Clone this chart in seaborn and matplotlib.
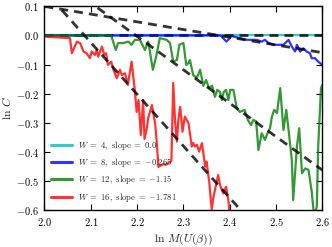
import matplotlib
matplotlib.use('Agg')
import matplotlib.pyplot as plt
import seaborn as sns
from matplotlib.ticker import FuncFormatter, MultipleLocator

# series: W values, fitted slopes / intercepts
widths = [4, 8, 12, 16]
slopes = [0.0, -0.265, -1.15, -1.781]
intercepts = [0.0, 0.63, 2.527, 3.716]
colors = ['c', 'b', 'g', 'r']
fit_x = [2.0, 2.6]

x_w4 = [2.0, 2.1, 2.2, 2.3, 2.4, 2.5, 2.6]
y_w4 = [0.0, 0.0, 0.0, 0.0, 0.0, 0.0, 0.0]

x_w8 = [2.0, 2.38, 2.393, 2.404, 2.422, 2.437, 2.458, 2.469, 2.476, 2.483, 2.494,
        2.516, 2.527, 2.534, 2.541, 2.545, 2.552, 2.559, 2.566, 2.573, 2.577,
        2.584, 2.591, 2.6]
y_w8 = [0.0, 0.0, -0.021, -0.002, -0.009, -0.015, -0.015, -0.021, -0.015, -0.025,
        -0.032, -0.032, -0.015, -0.038, -0.055, -0.032, -0.055, -0.044, -0.055,
        -0.061, -0.078, -0.078, -0.09, -0.101]

x_w12 = [2.0, 2.144, 2.154, 2.159, 2.170, 2.181, 2.188, 2.195, 2.206, 2.217, 2.224,
         2.234, 2.241, 2.249, 2.264, 2.271, 2.278, 2.286, 2.291, 2.300, 2.306,
         2.311, 2.314, 2.321, 2.329, 2.336, 2.343, 2.349, 2.355, 2.362, 2.368,
         2.373, 2.379, 2.383, 2.387, 2.392, 2.397, 2.401, 2.408, 2.415, 2.422,
         2.432, 2.439, 2.446, 2.451, 2.457, 2.462, 2.469, 2.476, 2.483, 2.487,
         2.491, 2.496, 2.502, 2.509, 2.516, 2.522, 2.527, 2.534, 2.537, 2.545,
         2.550, 2.556, 2.563, 2.570, 2.577, 2.582, 2.588, 2.591, 2.597, 2.600]
y_w12 = [0.0, 0.0, -0.050, -0.026, -0.026, -0.021, -0.032, -0.015, -0.015, -0.050,
         -0.021, -0.118, -0.073, -0.009, -0.015, -0.026, -0.090, -0.084, -0.032,
         -0.026, -0.101, -0.095, -0.084, -0.136, -0.146, -0.118, -0.173, -0.153,
         -0.180, -0.173, -0.211, -0.187, -0.194, -0.222, -0.194, -0.187, -0.222,
         -0.187, -0.187, -0.249, -0.263, -0.256, -0.290, -0.308, -0.290, -0.296,
         -0.394, -0.336, -0.359, -0.331, -0.319, -0.279, -0.256, -0.267, -0.181,
         -0.325, -0.256, -0.325, -0.428, -0.566, -0.382, -0.319, -0.474, -0.457,
         -0.462, -0.537, -0.620, -0.589, -0.382, -0.181, -0.170]

x_w16 = [2.0, 2.055, 2.059, 2.070, 2.077, 2.084, 2.091, 2.098, 2.102, 2.109, 2.113,
         2.116, 2.124, 2.129, 2.133, 2.137, 2.144, 2.149, 2.156, 2.163, 2.167,
         2.174, 2.180, 2.188, 2.195, 2.199, 2.203, 2.208, 2.213, 2.216, 2.221,
         2.224, 2.232, 2.239, 2.242, 2.246, 2.257, 2.262, 2.274, 2.278, 2.282,
         2.286, 2.289, 2.293, 2.298, 2.303, 2.311, 2.314, 2.318, 2.321, 2.325,
         2.329, 2.334, 2.340, 2.347, 2.350, 2.356, 2.361, 2.365, 2.375, 2.379,
         2.386, 2.392, 2.397, 2.400]
y_w16 = [-0.004, -0.009, -0.061, -0.021, -0.026, -0.055, -0.061, -0.078, -0.055,
         -0.067, -0.050, -0.073, -0.038, -0.067, -0.061, -0.101, -0.090, -0.118,
         -0.147, -0.118, -0.136, -0.130, -0.170, -0.090, -0.187, -0.263, -0.222,
         -0.342, -0.222, -0.356, -0.318, -0.283, -0.239, -0.304, -0.359, -0.452,
         -0.442, -0.445, -0.431, -0.163, -0.297, -0.365, -0.290, -0.245, -0.331,
         -0.279, -0.302, -0.336, -0.382, -0.370, -0.382, -0.376, -0.399, -0.370,
         -0.451, -0.434, -0.508, -0.598, -0.554, -0.480, -0.514, -0.543, -0.520,
         -0.566, -0.617]

xs = [x_w4, x_w8, x_w12, x_w16]
ys = [y_w4, y_w8, y_w12, y_w16]

sns.set_style('ticks')
plt.rcParams['font.family'] = 'serif'
plt.rcParams['font.serif'] = ['cmr10', 'DejaVu Serif']
plt.rcParams['mathtext.fontset'] = 'cm'
plt.rcParams['axes.unicode_minus'] = False

fig, ax = plt.subplots(figsize=(3.32, 2.47), dpi=100)
fig.subplots_adjust(left=0.134, right=0.971, bottom=0.150, top=0.974)

for w, s, b, c, x, y in zip(widths, slopes, intercepts, colors, xs, ys):
    s_txt = str(s).replace('-', '{-}')
    sns.lineplot(x=x, y=y, ax=ax, color=c, alpha=0.8, lw=1.6,
                 label=rf'$W\;=\;{w},\ \mathrm{{slope}}\;=\;{s_txt}$')
    ax.plot(fit_x, [b + s * v for v in fit_x], color='k', alpha=0.8, lw=2.0,
            linestyle=(0, (3.2, 2.2)))

ax.set_xlim(2.0, 2.6)
ax.set_ylim(-0.6, 0.1)
ax.xaxis.set_major_locator(MultipleLocator(0.1))
ax.yaxis.set_major_locator(MultipleLocator(0.1))
fmt = FuncFormatter(lambda v, p: rf'${v:.1f}$' if abs(v) > 1e-9 else r'$0.0$')
ax.xaxis.set_major_formatter(fmt)
ax.yaxis.set_major_formatter(fmt)
ax.tick_params(direction='in', top=True, right=True, length=4, width=0.8,
               labelsize=7.5, colors='black', pad=4)
for sp in ax.spines.values():
    sp.set_linewidth(1.0)
    sp.set_color('black')

ax.set_xlabel(r'$\ln\,M(U(\beta))$', fontsize=8.5, labelpad=3)
ax.set_ylabel(r'$\ln\,C$', fontsize=8.5, labelpad=2)

leg = ax.legend(loc='lower left', frameon=False, fontsize=6.3, handlelength=2.4,
                labelspacing=0.5, borderaxespad=0.3, handletextpad=0.7)
for h in leg.get_lines():
    h.set_linewidth(2.2)

fig.savefig('out.png', dpi=100)
